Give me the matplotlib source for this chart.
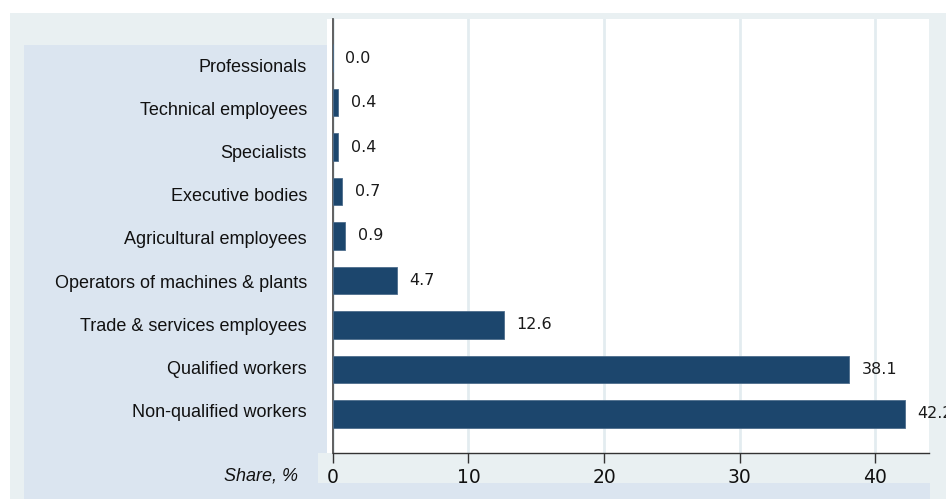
import matplotlib.pyplot as plt
from matplotlib.patches import Rectangle

# data (top to bottom)
categories = ["Professionals", "Technical employees", "Specialists",
              "Executive bodies", "Agricultural employees",
              "Operators of machines & plants", "Trade & services employees",
              "Qualified workers", "Non-qualified workers"]
shares = [0.0, 0.4, 0.4, 0.7, 0.9, 4.7, 12.6, 38.1, 42.2]
xticks = [0, 10, 20, 30, 40]

W, H = 946, 499
bar_color = "#1c466d"
outer_bg = "#e9f0f2"
inner_bg = "#dbe5f0"

fig = plt.figure(figsize=(W / 100, H / 100), dpi=100)
fig.patch.set_facecolor("white")


def px_rect(x0, y0, x1, y1, color):
    # rectangle given in pixel coords, top-left origin
    fig.patches.append(Rectangle((x0 / W, 1 - y1 / H), (x1 - x0) / W, (y1 - y0) / H,
                                 transform=fig.transFigure, facecolor=color,
                                 edgecolor="none", zorder=-10))


px_rect(10, 13, W, H, outer_bg)
px_rect(24, 45, 327, 453, inner_bg)
px_rect(24, 453, 318, 483, inner_bg)
px_rect(24, 483, 930, H, inner_bg)

ax = fig.add_axes([327 / W, 1 - 453 / H, (929 - 327) / W, (453 - 19) / H])
ax.set_facecolor("white")

y = list(range(len(categories)))
ax.barh(y, shares, height=0.62, color=bar_color, edgecolor="#4d6d8c",
        linewidth=0.6, zorder=3)

ax.set_xlim(-0.44, 43.98)
ax.set_ylim(8.88, -0.88)

# value labels
for yi, v in zip(y, shares):
    ax.annotate(f"{v:.1f}", (v, yi), xytext=(9, 0), textcoords="offset points",
                va="center", ha="left", fontsize=11.5, color="#1a1a1a",
                family="DejaVu Sans", annotation_clip=False, zorder=4)

# category labels (the original spaces them a bit tighter than the bars)
for i, name in enumerate(categories):
    fig.text(307 / W, 1 - (67.5 + 43.1 * i) / H, name, ha="right", va="center",
             fontsize=13, family="Liberation Sans", color="#111111")

# axes styling
ax.set_xticks(xticks)
ax.set_xticklabels([str(t) for t in xticks], fontsize=13.5,
                   family="DejaVu Sans", color="#111111")
ax.tick_params(axis="x", direction="out", length=7, width=1, color="#333333", pad=4)
ax.set_yticks([])
ax.grid(axis="x", color="#e3ecf0", linewidth=2, zorder=0)
ax.set_axisbelow(True)

for s in ["top", "right"]:
    ax.spines[s].set_visible(False)
ax.spines["left"].set_position(("data", 0))
ax.spines["left"].set_color("#555555")
ax.spines["left"].set_linewidth(1.3)
ax.spines["bottom"].set_bounds(0, 43.98)
ax.spines["bottom"].set_color("#333333")
ax.spines["bottom"].set_linewidth(1)

fig.text(298 / W, 1 - 476 / H, "Share, %", ha="right", va="center",
         fontsize=13, style="italic", family="Liberation Sans", color="#111111")

fig.savefig("out.png", dpi=100, facecolor=fig.get_facecolor())
